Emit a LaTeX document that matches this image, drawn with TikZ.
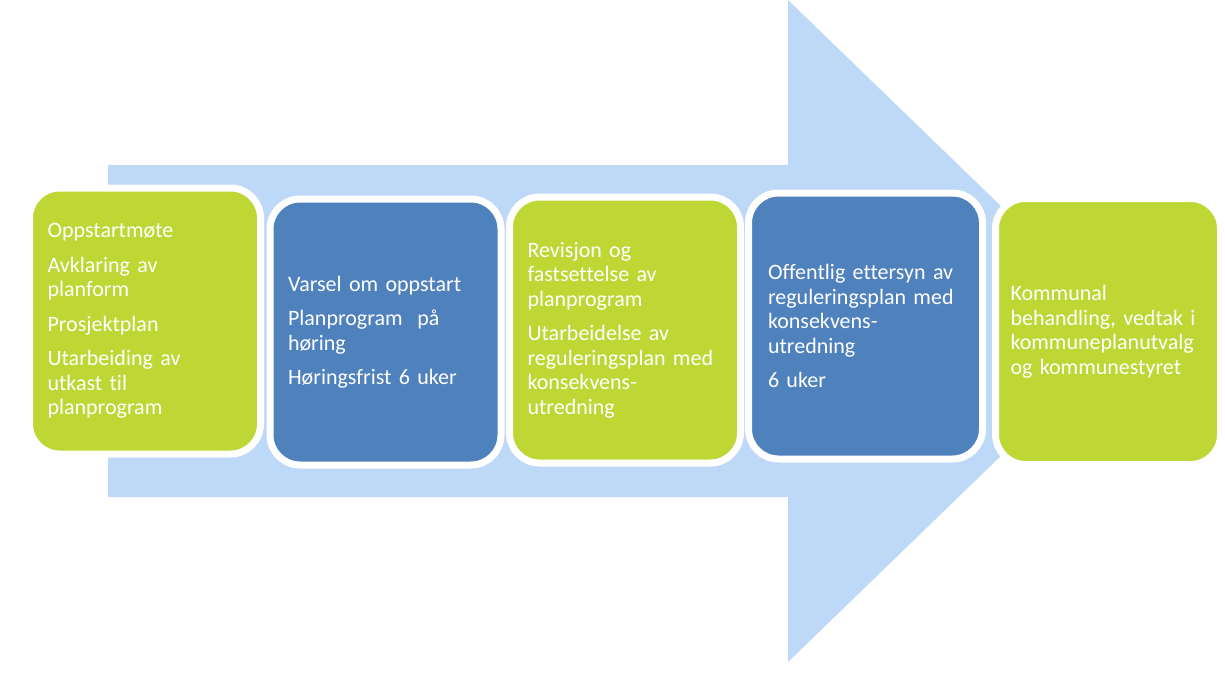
\documentclass[tikz,border=0pt]{standalone}
\usepackage{fontspec}
\setmainfont{Carlito}[RawFeature={-liga}]
\definecolor{arrowblue}{RGB}{190,216,248}
\definecolor{boxgreen}{RGB}{190,215,52}
\definecolor{boxblue}{RGB}{79,129,189}
\tikzset{
  stepbox/.style={draw=white, line width=7pt, rounded corners=30pt,
    minimum width=231pt, minimum height=266pt, inner sep=0pt,
    text width=195pt, align=left, text=white,
    font=\fontsize{22}{24.5}\selectfont},
  greenbox/.style={stepbox, fill=boxgreen},
  bluebox/.style={stepbox, fill=boxblue}
}
\begin{document}
\begin{tikzpicture}[x=1pt,y=-1pt]
\useasboundingbox (0,0) rectangle (1225,675);
\fill[arrowblue] (108,165) -- (788,165) -- (788,0) -- (1130,331) -- (788,662) -- (788,497) -- (108,497) -- cycle;
\node[greenbox] (b1) at (145,321) {Oppstartmøte\\[10pt]Avklaring av\\planform\\[10pt]Prosjektplan\\[10pt]Utarbeiding av\\utkast til\\planprogram};
\node[bluebox] (b2) at (385.5,332) {Varsel om oppstart\\[10pt]Planprogram\ \ på\\høring\\[10pt]Høringsfrist 6 uker};
\node[greenbox] (b3) at (625,330) {Revisjon og\\fastsettelse av\\planprogram\\[10pt]Utarbeidelse av\\reguleringsplan med\\konsekvens-\\utredning};
\node[bluebox, minimum width=234pt] (b4) at (865.5,326) {Offentlig ettersyn av\\reguleringsplan med\\konsekvens-\\utredning\\[10pt]6 uker};
\node[greenbox, minimum width=225pt] (b5) at (1108,331.5) {Kommunal\\behandling, vedtak i\\kommuneplanutvalg\\og kommunestyret};
\end{tikzpicture}
\end{document}
